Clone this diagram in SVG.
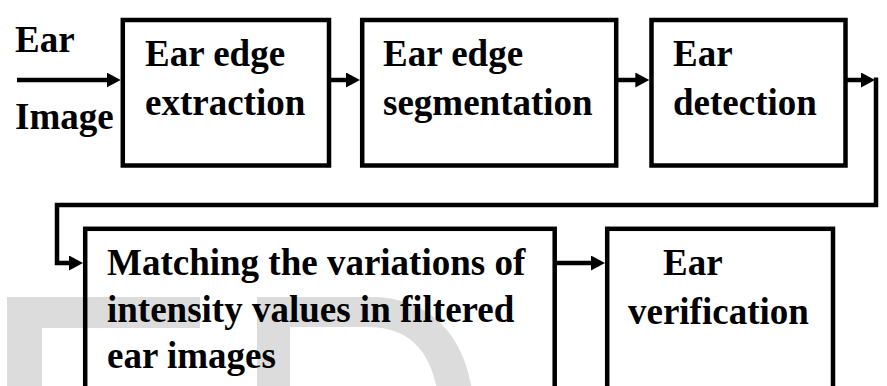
<svg xmlns="http://www.w3.org/2000/svg" width="887" height="386" viewBox="0 0 887 386">
  <style>
    .box { fill: none; stroke: #000; stroke-width: 4.5; }
    .conn { fill: none; stroke: #000; stroke-width: 4.5; }
    text { font-family: 'Liberation Serif', 'DejaVu Serif', serif; font-weight: 700; font-size: 37px; fill: #000; }
    .wm { fill: #dcdcdc; }
  </style>
  <defs>
    <marker id="arrow" markerUnits="userSpaceOnUse" markerWidth="16" markerHeight="16" refX="6" refY="7.5" orient="auto">
      <path d="M0,0 L14,7.5 L0,15 Z" fill="#000"/>
    </marker>
  </defs>
  <rect width="887" height="386" fill="#fff"/>
  <g id="watermark">
    <path class="wm" d="M7,297 H200 V328 H42 V390 H7 Z"/>
    <path class="wm" d="M257,297 H372 C420,297 462,325 472,390 H437 C430,350 408,327 368,327 H290 V390 H257 Z"/>
  </g>
  <g id="input-label" font-family="Liberation Serif, serif">
    <text x="15" y="52">Ear</text>
    <text x="15" y="129">Image</text>
  </g>
  <g id="node-extraction">
    <rect class="box" x="122.8" y="20" width="206.2" height="145.5"/>
    <text x="145" y="66">Ear edge</text>
    <text x="145" y="115">extraction</text>
  </g>
  <g id="node-segmentation">
    <rect class="box" x="362.2" y="20" width="254" height="145.5"/>
    <text x="383" y="66">Ear edge</text>
    <text x="383" y="115">segmentation</text>
  </g>
  <g id="node-detection">
    <rect class="box" x="651.5" y="20" width="194" height="145.5"/>
    <text x="673" y="66">Ear</text>
    <text x="673" y="115">detection</text>
  </g>
  <g id="node-matching">
    <rect class="box" x="85.2" y="228.8" width="469.5" height="200"/>
    <text x="107" y="275">Matching the variations of</text>
    <text x="107" y="322">intensity values in filtered</text>
    <text x="107" y="368">ear images</text>
  </g>
  <g id="node-verification">
    <rect class="box" x="607.2" y="228.8" width="225.8" height="200"/>
    <text x="663" y="275">Ear</text>
    <text x="628" y="324">verification</text>
  </g>
  <g id="connectors">
    <path class="conn" d="M17,80 H112.7" marker-end="url(#arrow)"/>
    <path class="conn" d="M331,80 H352" marker-end="url(#arrow)"/>
    <path class="conn" d="M617.5,80 H641.3" marker-end="url(#arrow)"/>
    <path class="conn" d="M847,80 H867" marker-end="url(#arrow)"/>
    <path class="conn" d="M876,77.5 V205 H57 V263 H75" marker-end="url(#arrow)"/>
    <path class="conn" d="M556,263 H597" marker-end="url(#arrow)"/>
  </g>
</svg>
